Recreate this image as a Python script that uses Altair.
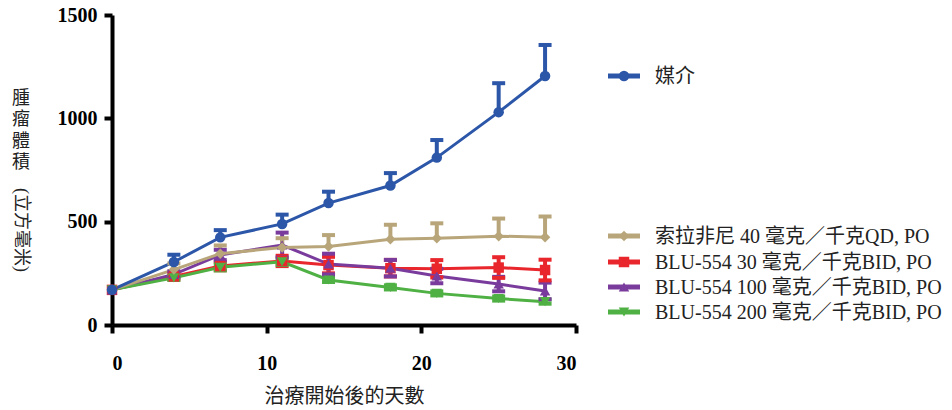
import altair as alt
import pandas as pd

# Days after treatment start
days = [0, 4, 7, 11, 14, 18, 21, 25, 28]

# Mean tumour volume (mm^3) and error (SEM) per group
vehicle = [170, 305, 424, 489, 590, 675, 810, 1030, 1205]
vehicle_err = [0, 35, 35, 45, 55, 60, 85, 140, 150]

sorafenib = [170, 268, 345, 375, 380, 415, 420, 430, 425]
sorafenib_err = [0, 30, 40, 45, 55, 70, 72, 85, 100]

blu30 = [170, 235, 285, 310, 290, 275, 272, 278, 266]
blu30_err = [0, 15, 20, 25, 40, 40, 42, 50, 50]

blu100 = [170, 245, 339, 387, 295, 275, 237, 198, 165]
blu100_err = [0, 15, 25, 60, 50, 40, 35, 35, 40]

blu200 = [170, 228, 279, 306, 218, 182, 153, 128, 113]
blu200_err = [0, 10, 15, 15, 10, 10, 10, 10, 10]

names = [
    "媒介",
    "索拉非尼 40 毫克／千克QD, PO",
    "BLU-554 30 毫克／千克BID, PO",
    "BLU-554 100 毫克／千克BID, PO",
    "BLU-554 200 毫克／千克BID, PO",
]
colors = ["#2c56a8", "#b8a67a", "#e8262c", "#7a3c9c", "#4fb044"]
shapes = ["circle", "diamond", "square", "triangle-up", "triangle-down"]

# (values, errors, error drawn below the mean too?)
groups = [
    (vehicle, vehicle_err, False),
    (sorafenib, sorafenib_err, False),
    (blu30, blu30_err, True),
    (blu100, blu100_err, True),
    (blu200, blu200_err, True),
]

rows = []
for name, (vals, errs, both) in zip(names, groups):
    for d, v, e in zip(days, vals, errs):
        rows.append({
            "series": name,
            "day": d,
            "value": v,
            "hi": v + e,
            "lo": v - e if both else v,
        })
df = pd.DataFrame(rows)

# draw the vehicle group last so it sits on top
draw_order = [names[2], names[3], names[4], names[1], names[0]]
df["z"] = df["series"].map({n: i for i, n in enumerate(draw_order)})
df = df.sort_values(["z", "day"])

color = alt.Color("series:N", scale=alt.Scale(domain=names, range=colors), legend=None)
shape = alt.Shape("series:N", scale=alt.Scale(domain=names, range=shapes), legend=None)

x = alt.X("day:Q", scale=alt.Scale(domain=[0, 30], nice=False),
          axis=alt.Axis(values=[0, 10, 20, 30], title="治療開始後的天數"))
y = alt.Y("value:Q", scale=alt.Scale(domain=[0, 1500], nice=False),
          axis=alt.Axis(values=[0, 500, 1000, 1500], format="d", title=None))

base = alt.Chart(df)

err_rule = base.mark_rule(strokeWidth=4, opacity=1).encode(
    x="day:Q", y=alt.Y("lo:Q"), y2="hi:Q", color=color
).transform_filter("datum.hi > datum.lo")

cap_hi = base.mark_tick(orient="horizontal", size=13, thickness=4, opacity=1).encode(
    x="day:Q", y=alt.Y("hi:Q"), color=color
).transform_filter("datum.hi > datum.value")

cap_lo = base.mark_tick(orient="horizontal", size=13, thickness=4, opacity=1).encode(
    x="day:Q", y=alt.Y("lo:Q"), color=color
).transform_filter("datum.lo < datum.value")

lines = base.mark_line(strokeWidth=3).encode(
    x=x, y=y, color=color, detail="series:N", order="day:Q"
)

points = base.mark_point(filled=True, opacity=1, size=110).encode(
    x="day:Q", y="value:Q", color=color, shape=shape
)

one_row = alt.Chart(df).transform_filter("datum.day == 0 && datum.series == '媒介'")

# y-axis title: upright stacked characters, then the unit turned sideways
ytitle_top = one_row.mark_text(
    font="Noto Sans CJK TC", fontSize=18, lineHeight=21.3, color="#222222",
    baseline="middle", align="center"
).encode(
    x=alt.value(-91), y=alt.value(84),
    text=alt.value(["腫", "瘤", "體", "積"])
)
ytitle_unit = one_row.mark_text(
    font="Liberation Serif, Noto Sans CJK TC", fontSize=18, angle=90,
    color="#222222", baseline="middle", align="center"
).encode(
    x=alt.value(-91), y=alt.value(215), text=alt.value("(立方毫米)")
)

# Legend drawn beside the plot
legend_y = [61, 221, 247, 272, 297]
legend_layers = []
for name, c, s, ly in zip(names, colors, shapes, legend_y):
    one = alt.Chart(df).transform_filter(
        alt.FieldEqualPredicate(field="series", equal=name)
    ).transform_filter("datum.day == 0")
    legend_layers.append(one.mark_rule(strokeWidth=5, color=c).encode(
        x=alt.value(496), x2=alt.value(528), y=alt.value(ly)))
    legend_layers.append(one.mark_point(filled=True, opacity=1, size=110, color=c, shape=s).encode(
        x=alt.value(512), y=alt.value(ly)))
    legend_layers.append(one.mark_text(
        align="left", baseline="middle", fontSize=20, color="#222222",
        font="Liberation Serif, Noto Sans CJK TC"
    ).encode(x=alt.value(543), y=alt.value(ly + 1), text=alt.value(name)))

chart = alt.layer(
    lines, err_rule, cap_hi, cap_lo, points, ytitle_top, ytitle_unit, *legend_layers
).properties(
    width=464, height=310,
    padding={"left": 112, "top": 15, "right": 376, "bottom": 85},
    autosize="none",
    background="white",
).configure_view(
    stroke=None
).configure_axis(
    grid=False,
    domainColor="black", domainWidth=4,
    tickColor="black", tickWidth=4, tickSize=8,
    labelFont="Liberation Serif", labelFontWeight="bold", labelFontSize=20,
    labelColor="black",
    titleFont="Noto Sans CJK TC", titleFontWeight="normal", titleFontSize=20,
    titleColor="#222222",
).configure_axisX(
    labelPadding=20, titlePadding=13
).configure_axisY(
    labelPadding=7
)

chart.save("out.html", embed_options={"renderer": "svg", "actions": False})
